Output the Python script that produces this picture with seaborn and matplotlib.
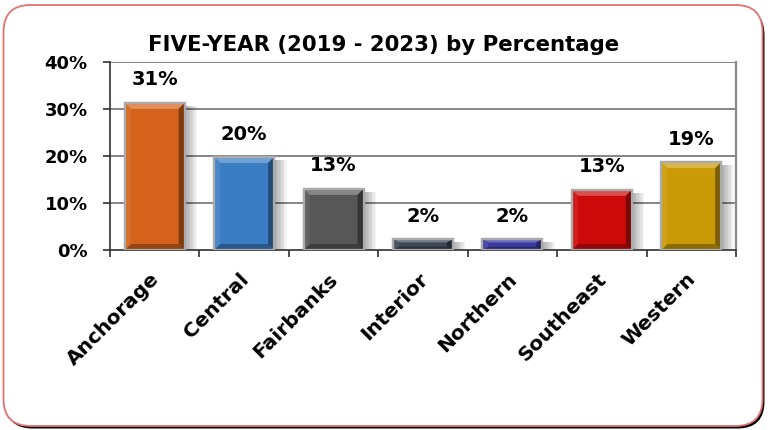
import numpy as np
import pandas as pd
import matplotlib
matplotlib.use("Agg")
import matplotlib.pyplot as plt
import matplotlib.transforms as mtransforms
from matplotlib.patches import FancyBboxPatch, Polygon, Rectangle
from matplotlib.colors import to_rgb
import seaborn as sns

# Regional share of cases, five-year window
regions = ["Anchorage", "Central", "Fairbanks", "Interior", "Northern", "Southeast", "Western"]
shares = [0.313, 0.198, 0.130, 0.023, 0.023, 0.128, 0.187]
bar_colors = ["#D4621A", "#3A7DC4", "#575757", "#3C4656", "#3A3AA0", "#CC0A0A", "#C99A06"]
y_ticks = [0.0, 0.1, 0.2, 0.3, 0.4]
title = "FIVE-YEAR (2019 - 2023) by Percentage"

sns.set_theme(style="white")
plt.rcParams["font.family"] = ["DejaVu Sans"]
plt.rcParams["font.weight"] = "bold"

W, H = 768, 430
fig = plt.figure(figsize=(W / 100, H / 100), dpi=100)

# Rounded frame with a dark drop shadow
shadow = FancyBboxPatch((0.055, 0.015), 7.59, 4.205,
                        boxstyle="round,pad=0,rounding_size=0.27",
                        transform=fig.dpi_scale_trans, facecolor="black",
                        edgecolor="black", lw=0, zorder=0)
frame = FancyBboxPatch((0.035, 0.04), 7.59, 4.21,
                       boxstyle="round,pad=0,rounding_size=0.27",
                       transform=fig.dpi_scale_trans, facecolor="white",
                       edgecolor="#E07272", lw=1.3, zorder=1)
fig.add_artist(shadow)
fig.add_artist(frame)

ax_l, ax_r, ax_t, ax_b = 110, 736, 62, 250
ax = fig.add_axes([ax_l / W, 1 - ax_b / H, (ax_r - ax_l) / W, (ax_b - ax_t) / H])
ax.set_zorder(2)
ax.patch.set_alpha(0)

df = pd.DataFrame({"region": regions, "share": shares})
sns.barplot(data=df, x="region", y="share", hue="region", palette=bar_colors,
            legend=False, width=0.67, saturation=1, edgecolor="#ABABAB",
            linewidth=1.6, ax=ax, zorder=3)

ax.set_xlim(-0.5, len(regions) - 0.5)
ax.set_ylim(0, 0.4)
ax.set_yticks(y_ticks)
ax.set_yticklabels([f"{int(round(t * 100))}%" for t in y_ticks])
ax.set_xlabel("")
ax.set_ylabel("")

# Horizontal gridlines
for t in y_ticks[1:]:
    ax.axhline(t, color="#858585", lw=1.4, zorder=1)

ax.spines["top"].set_visible(False)
ax.spines["right"].set_color("#8A8A8A")
ax.spines["right"].set_linewidth(1.6)
ax.spines["left"].set_color("#303030")
ax.spines["left"].set_linewidth(1.2)
ax.spines["bottom"].set_color("#303030")
ax.spines["bottom"].set_linewidth(1.2)

# Category boundaries get the tick marks, labels sit at the centres
ax.set_xticks(np.arange(-0.5, len(regions)), minor=True)
ax.tick_params(axis="x", which="minor", direction="out", length=5, width=1.2,
               color="#303030", bottom=True)
ax.tick_params(axis="x", which="major", length=0, pad=14)
ax.tick_params(axis="y", direction="out", length=5, width=1.2, color="#303030",
               left=True, pad=11, labelsize=13)
for lab in ax.get_yticklabels():
    lab.set_fontweight("bold")
    lab.set_color("black")

ax.set_xticks(range(len(regions)))
ax.set_xticklabels(regions, rotation=45, ha="right", va="top",
                   rotation_mode="anchor", fontsize=14.5, fontweight="bold",
                   color="black")
shift = mtransforms.ScaledTranslation(-5 / 100, 0, fig.dpi_scale_trans)
for lab in ax.get_xticklabels():
    lab.set_transform(lab.get_transform() + shift)

# Bevel and drop shadow on each bar
px_x = (ax_r - ax_l) / len(regions)          # pixels per category
px_y = (ax_b - ax_t) / 0.4                   # pixels per unit of share


def mix(c, other, f):
    c = np.array(to_rgb(c)); o = np.array(to_rgb(other))
    return tuple(c * (1 - f) + o * f)


for patch, col in zip(ax.patches, bar_colors):
    x0 = patch.get_x()
    w = patch.get_width()
    h = patch.get_height()
    x1 = x0 + w
    bx = 6 / px_x
    by = min(6 / px_y, h * 0.3)
    # soft shadow to the right
    for k in range(9):
        ax.add_patch(Rectangle((x1, 0), (k + 1) * 1.4 / px_x, max(h - 3 / px_y, 0),
                               facecolor="black", edgecolor="none",
                               alpha=0.04, zorder=2))
    top = Polygon([(x0, h), (x1, h), (x1 - bx, h - by), (x0 + bx, h - by)],
                  closed=True, facecolor=mix(col, "white", 0.28), edgecolor="none", zorder=4)
    bottom = Polygon([(x0, 0), (x1, 0), (x1 - bx, by), (x0 + bx, by)],
                     closed=True, facecolor=mix(col, "black", 0.3), edgecolor="none", zorder=4)
    left = Polygon([(x0, 0), (x0 + bx, by), (x0 + bx, h - by), (x0, h)],
                   closed=True, facecolor=mix(col, "white", 0.08), edgecolor="none", zorder=4)
    right = Polygon([(x1, 0), (x1 - bx, by), (x1 - bx, h - by), (x1, h)],
                    closed=True, facecolor=mix(col, "black", 0.4), edgecolor="none", zorder=4)
    for p in (top, bottom, left, right):
        ax.add_patch(p)
    ax.add_patch(Rectangle((x0, 0), w, h, facecolor="none", edgecolor="#ABABAB",
                           lw=1.6, zorder=5))
    ax.annotate(f"{int(round(h * 100))}%", (x0 + w / 2, h), xytext=(0, 16.5),
                textcoords="offset points", ha="center", va="center",
                fontsize=14, fontweight="bold", color="black", zorder=6,
                annotation_clip=False)

fig.text(0.5, 1 - 45 / H, title, ha="center", va="center", fontsize=15.3,
         fontweight="bold", color="black", zorder=3)

fig.savefig("out.png", dpi=100)
